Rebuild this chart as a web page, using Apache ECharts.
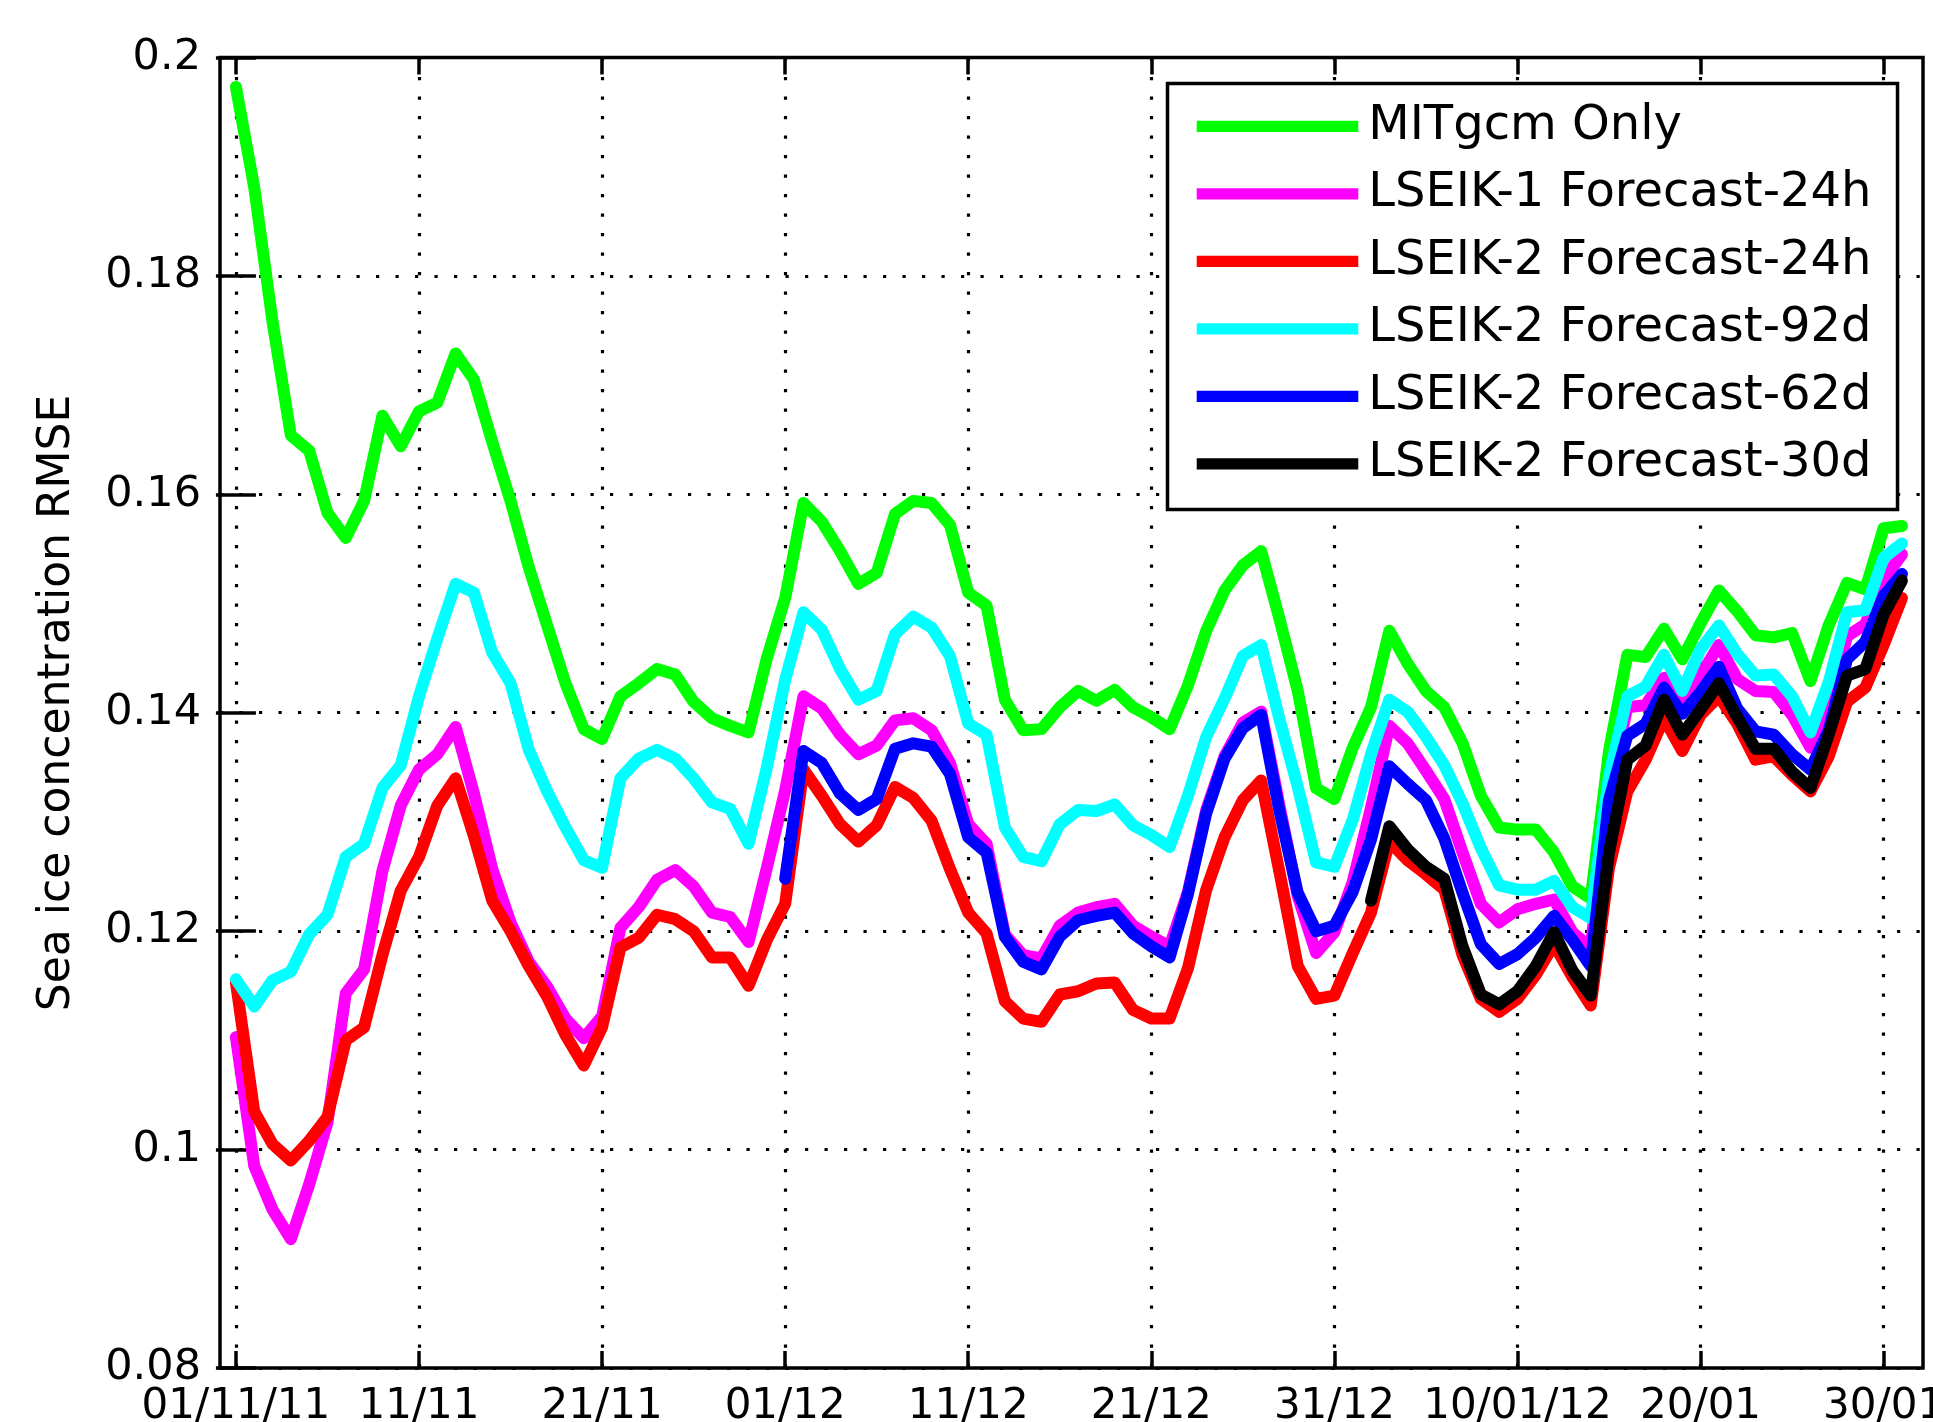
<!DOCTYPE html>
<html>
<head>
<meta charset="utf-8">
<script src="https://cdn.jsdelivr.net/npm/echarts@6/dist/echarts.min.js"></script>
<style>
html,body{margin:0;padding:0;background:#fff;}
#chart{width:1933px;height:1422px;}
</style>
</head>
<body>
<div id="chart"></div>
<script>
// ---- axis ticks ----
const tickDays = [0, 10, 20, 30, 40, 50, 60, 70, 80, 90];
const tickLabels = ['01/11/11', '11/11', '21/11', '01/12', '11/12', '21/12', '31/12', '10/01/12', '20/01', '30/01'];
const yMin = 0.08, yMax = 0.2, yStep = 0.02;

// ---- series (daily values, day 0 = 01/11/11) ----
const seriesNames = ['MITgcm Only', 'LSEIK-1 Forecast-24h', 'LSEIK-2 Forecast-24h',
  'LSEIK-2 Forecast-92d', 'LSEIK-2 Forecast-62d', 'LSEIK-2 Forecast-30d'];
const seriesColors = ['#00ff00', '#ff00ff', '#ff0000', '#00ffff', '#0000ff', '#000000'];
const startDays = [0, 0, 0, 0, 30, 62];

const mitgcm = [0.1973, 0.1881, 0.1758, 0.1654, 0.1640, 0.1583, 0.1560, 0.1594, 0.1672, 0.1644,
  0.1676, 0.1684, 0.1729, 0.1705, 0.1648, 0.1594, 0.1533, 0.1480, 0.1427, 0.1385,
  0.1376, 0.1415, 0.1427, 0.1440, 0.1435, 0.1410, 0.1395, 0.1388, 0.1382, 0.1450,
  0.1505, 0.1592, 0.1575, 0.1548, 0.1518, 0.1528, 0.1582, 0.1594, 0.1592, 0.1572,
  0.1510, 0.1498, 0.1412, 0.1384, 0.1385, 0.1405, 0.1420, 0.1411, 0.1421, 0.1405,
  0.1396, 0.1385, 0.1425, 0.1475, 0.1512, 0.1535, 0.1548, 0.1486, 0.1420, 0.1331,
  0.1321, 0.1368, 0.1405, 0.1475, 0.1445, 0.1420, 0.1405, 0.1372, 0.1324, 0.1295,
  0.1293, 0.1293, 0.1272, 0.1241, 0.1230, 0.1365, 0.1453, 0.1451, 0.1477, 0.1449,
  0.1482, 0.1512, 0.1493, 0.1471, 0.1469, 0.1473, 0.1429, 0.1480, 0.1519, 0.1513,
  0.1569, 0.1571];

const lseik1_24h = [0.1103, 0.0985, 0.0945, 0.0918, 0.0968, 0.1025, 0.1143, 0.1165, 0.1255, 0.1315,
  0.1348, 0.1362, 0.1387, 0.1326, 0.1257, 0.1208, 0.1172, 0.1149, 0.1120, 0.1102,
  0.1122, 0.1203, 0.1222, 0.1247, 0.1256, 0.1241, 0.1217, 0.1213, 0.1190, 0.1258,
  0.1329, 0.1415, 0.1404, 0.1380, 0.1362, 0.1370, 0.1393, 0.1395, 0.1384, 0.1354,
  0.1298, 0.1280, 0.1197, 0.1178, 0.1175, 0.1205, 0.1217, 0.1222, 0.1225, 0.1205,
  0.1195, 0.1186, 0.1236, 0.1311, 0.1360, 0.1391, 0.1401, 0.1315, 0.1232, 0.1180,
  0.1199, 0.1245, 0.1313, 0.1388, 0.1372, 0.1347, 0.1321, 0.1272, 0.1225, 0.1208,
  0.1220, 0.1225, 0.1229, 0.1199, 0.1185, 0.1328, 0.1405, 0.1407, 0.1432, 0.1405,
  0.1434, 0.1462, 0.1431, 0.1420, 0.1419, 0.1398, 0.1368, 0.1405, 0.1470, 0.1481,
  0.1522, 0.1545];

const lseik2_24h = [0.1153, 0.1035, 0.1005, 0.0990, 0.1008, 0.1030, 0.1100, 0.1112, 0.1178, 0.1237,
  0.1268, 0.1315, 0.1340, 0.1287, 0.1228, 0.1200, 0.1168, 0.1140, 0.1105, 0.1077,
  0.1112, 0.1185, 0.1194, 0.1215, 0.1211, 0.1200, 0.1176, 0.1176, 0.1150, 0.1192,
  0.1225, 0.1348, 0.1324, 0.1298, 0.1282, 0.1297, 0.1332, 0.1322, 0.1301, 0.1257,
  0.1217, 0.1198, 0.1136, 0.1120, 0.1117, 0.1142, 0.1145, 0.1152, 0.1153, 0.1128,
  0.1120, 0.1120, 0.1166, 0.1238, 0.1286, 0.1320, 0.1338, 0.1254, 0.1168, 0.1138,
  0.1141, 0.1180, 0.1217, 0.1282, 0.1265, 0.1252, 0.1238, 0.1178, 0.1138, 0.1126,
  0.1138, 0.1160, 0.1188, 0.1158, 0.1132, 0.1258, 0.1328, 0.1357, 0.1395, 0.1365,
  0.1398, 0.1415, 0.1390, 0.1357, 0.1360, 0.1343, 0.1328, 0.1360, 0.1410, 0.1423,
  0.1462, 0.1505];

const lseik2_92d = [0.1156, 0.1131, 0.1155, 0.1163, 0.1197, 0.1215, 0.1268, 0.1280, 0.1331, 0.1352,
  0.1415, 0.1468, 0.1518, 0.1510, 0.1455, 0.1427, 0.1366, 0.1328, 0.1295, 0.1265,
  0.1258, 0.1340, 0.1358, 0.1366, 0.1358, 0.1340, 0.1318, 0.1312, 0.1280, 0.1350,
  0.1430, 0.1492, 0.1476, 0.1440, 0.1412, 0.1420, 0.1472, 0.1488, 0.1478, 0.1452,
  0.1390, 0.1380, 0.1295, 0.1268, 0.1264, 0.1298, 0.1311, 0.1310, 0.1316, 0.1297,
  0.1288, 0.1277, 0.1324, 0.1378, 0.1413, 0.1452, 0.1462, 0.1394, 0.1332, 0.1263,
  0.1259, 0.1302, 0.1362, 0.1412, 0.1401, 0.1378, 0.1352, 0.1317, 0.1276, 0.1242,
  0.1238, 0.1238, 0.1246, 0.1222, 0.1212, 0.1342, 0.1415, 0.1424, 0.1453, 0.1420,
  0.1458, 0.1480, 0.1454, 0.1434, 0.1435, 0.1415, 0.1382, 0.1428, 0.1492, 0.1494,
  0.1542, 0.1555];

const lseik2_62d = [0.1248, 0.1365, 0.1354, 0.1326, 0.1311, 0.1321, 0.1367, 0.1372, 0.1369, 0.1344,
  0.1286, 0.1272, 0.1195, 0.1172, 0.1165, 0.1195, 0.1210, 0.1214, 0.1217, 0.1198,
  0.1186, 0.1176, 0.1234, 0.1308, 0.1358, 0.1386, 0.1398, 0.1310, 0.1235, 0.1200,
  0.1205, 0.1236, 0.1284, 0.1351, 0.1335, 0.1320, 0.1285, 0.1235, 0.1188, 0.1170,
  0.1179, 0.1194, 0.1214, 0.1192, 0.1168, 0.1320, 0.1379, 0.1390, 0.1423, 0.1399,
  0.1419, 0.1442, 0.1404, 0.1383, 0.1380, 0.1362, 0.1348, 0.1384, 0.1449, 0.1465,
  0.1507, 0.1527];

const lseik2_30d = [0.1228, 0.1296, 0.1275, 0.1259, 0.1248, 0.1186, 0.1142, 0.1133, 0.1145, 0.1168,
  0.1199, 0.1164, 0.1141, 0.1272, 0.1357, 0.1370, 0.1412, 0.1380, 0.1403, 0.1427,
  0.1396, 0.1367, 0.1367, 0.1346, 0.1331, 0.1380, 0.1434, 0.1440, 0.1490, 0.1521];

const seriesValues = [mitgcm, lseik1_24h, lseik2_24h, lseik2_92d, lseik2_62d, lseik2_30d];

// ---- build chart ----
const FONT = '"DejaVu Sans", "Liberation Sans", sans-serif';
const chart = echarts.init(document.getElementById('chart'), null, {renderer: 'canvas'});

const tickStyle = {color: '#000', width: 3.5};
const gridLineStyle = {color: '#000', width: 3.2, type: [3.2, 16.3]};
const xMin = -0.87, xMax = 92.15;

const series = seriesValues.map((vals, k) => ({
  name: seriesNames[k],
  type: 'line',
  xAxisIndex: 0,
  yAxisIndex: 0,
  data: vals.map((v, i) => [startDays[k] + i, v]),
  showSymbol: false,
  symbol: 'none',
  color: seriesColors[k],
  lineStyle: {color: seriesColors[k], width: 12, cap: 'round', join: 'round'},
  itemStyle: {color: seriesColors[k]},
  emphasis: {disabled: true},
  z: 3 + k
}));

const option = {
  animation: false,
  backgroundColor: '#ffffff',
  grid: {left: 220, right: 10, top: 57.5, bottom: 54, show: true,
         outerBoundsMode: 'none', containLabel: false,
         borderColor: '#000', borderWidth: 3.5, backgroundColor: 'transparent'},
  xAxis: [
    {type: 'value', min: xMin, max: xMax, position: 'bottom',
     axisLine: {show: false},
     axisTick: {show: true, inside: true, length: 17, lineStyle: tickStyle, customValues: tickDays},
     axisLabel: {show: true, customValues: tickDays, margin: 18, fontFamily: FONT, fontSize: 42, color: '#000',
                 hideOverlap: false,
                 formatter: v => tickLabels[tickDays.indexOf(Math.round(v))]},
     splitLine: {show: true, lineStyle: gridLineStyle}},
    {type: 'value', min: xMin, max: xMax, position: 'top',
     axisLine: {show: false},
     axisTick: {show: true, inside: true, length: 17, lineStyle: tickStyle, customValues: tickDays},
     axisLabel: {show: false},
     splitLine: {show: false}}
  ],
  yAxis: [
    {type: 'value', min: yMin, max: yMax, interval: yStep, position: 'left',
     axisLine: {show: false},
     axisTick: {show: true, inside: true, length: 20, lineStyle: tickStyle},
     axisLabel: {show: true, margin: 19, fontFamily: FONT, fontSize: 43, color: '#000'},
     splitLine: {show: true, lineStyle: gridLineStyle}},
    {type: 'value', min: yMin, max: yMax, interval: yStep, position: 'right',
     axisLine: {show: false},
     axisTick: {show: true, inside: true, length: 20, lineStyle: tickStyle},
     axisLabel: {show: false},
     splitLine: {show: false}}
  ],
  legend: {
    orient: 'vertical', left: 1167.5, top: 83.5,
    padding: [14.8, 26, 17.7, 29.2],
    itemWidth: 161.6, itemHeight: 11.3, itemGap: 11.5,
    icon: 'rect',
    backgroundColor: '#fff', borderColor: '#000', borderWidth: 3.5, borderRadius: 0,
    textStyle: {fontFamily: FONT, fontSize: 48, color: '#000', lineHeight: 56, padding: [0, 0, 0, 5]},
    data: seriesNames,
    selectedMode: false,
    z: 20
  },
  graphic: [{
    type: 'text', x: 58, y: 703, rotation: Math.PI / 2, z: 10,
    style: {text: 'Sea ice concentration RMSE', font: '44px ' + FONT, fill: '#000',
            align: 'center', verticalAlign: 'middle'}
  }],
  series: series
};
chart.setOption(option);
</script>
</body>
</html>
